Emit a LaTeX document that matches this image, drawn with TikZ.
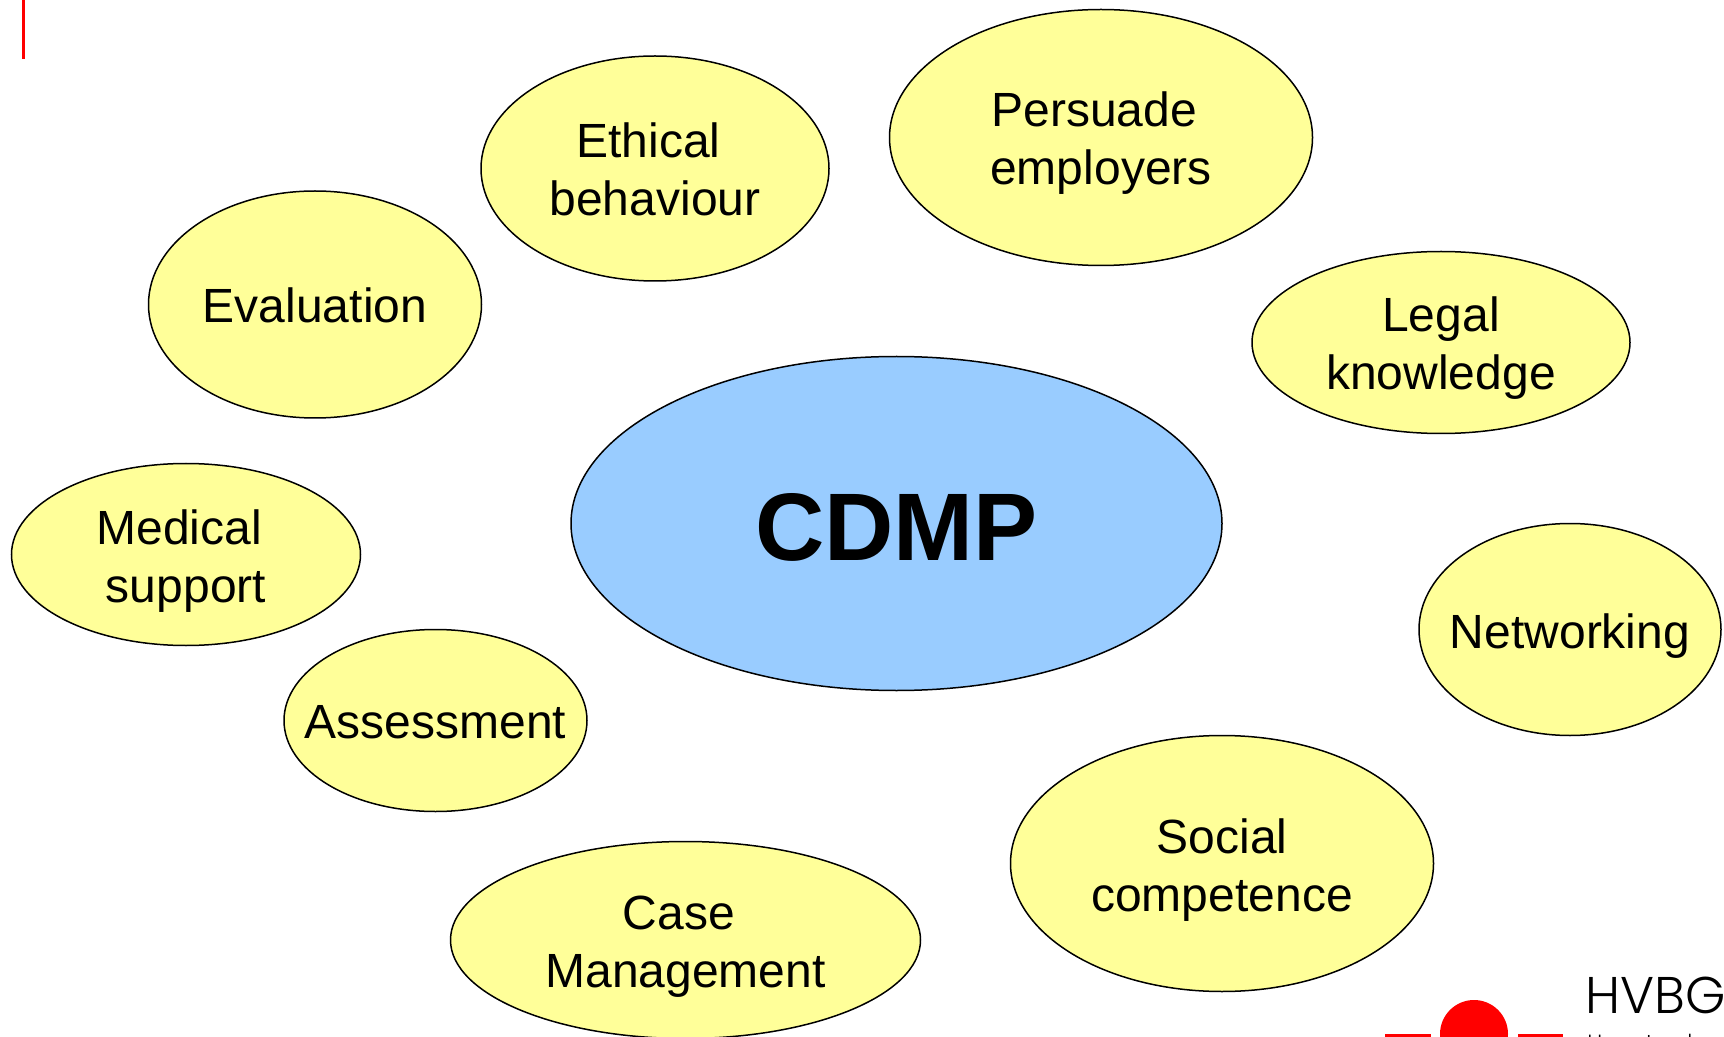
\documentclass[tikz,border=0pt]{standalone}
\usepackage{fontspec}
\setmainfont{Liberation Sans}
\newfontfamily\logofont{Poppins Light}
\usepackage{tikz}
\usetikzlibrary{positioning, shapes.geometric}
\definecolor{bubblecolor}{RGB}{255,255,153}
\definecolor{corecolor}{RGB}{153,204,255}
\definecolor{logocolor}{RGB}{255,0,0}
\tikzset{
  bubble/.style 2 args={ellipse, draw=black, line width=0.75pt, fill=bubblecolor,
    inner xsep=-30pt, inner ysep=-12pt,
    minimum width=#1*0.5pt, minimum height=#2*0.5pt, align=center, text=black,
    font=\fontsize{24}{29}\selectfont},
  oneline/.style={text height=18pt, text depth=0pt},
  twolines/.style={text height=47.5pt, text depth=0pt},
  corebubble/.style={bubble={651}{334}, fill=corecolor, text height=36.8pt, text depth=0pt,
    font=\fontsize{48}{58}\selectfont\bfseries},
}

\begin{document}
\begin{tikzpicture}[x=0.5pt, y=-0.5pt]
    \useasboundingbox (0,0) rectangle (1724,1037);
    \clip (0,0) rectangle (1724,1037);
    \fill[white] (0,0) rectangle (1724,1037);
    \coordinate (marktop) at (23.5,0);
    \coordinate (markend) at (23.5,59);
    \draw[logocolor, line width=1.5pt] (marktop) -- (markend);
    % outer ring
    \node[bubble={333}{227}, oneline] (evaluation) at (315,304.5) {Evaluation};
    \node[bubble={348}{225}, twolines] (ethical) at (655,168.5) {Ethical~\mbox{}\\behaviour};
    \node[bubble={423}{256}, twolines] (persuade) at (1101,137.5) {Persuade~\mbox{}\\employers};
    \node[bubble={378}{182}, twolines] (legal) at (1441,342.5) {Legal\\knowledge};
    \node[bubble={302}{212}, oneline, text height=19pt] (networking) at (1570,629.5) {Networking};
    \node[bubble={423}{256}, twolines] (social) at (1222,863.5) {Social\\competence};
    \node[bubble={470}{197}, twolines] (case) at (685.5,940) {Case~\mbox{}\\Management};
    \node[bubble={303}{182}, oneline] (assessment) at (435.5,720.5) {Assessment};
    \node[bubble={349}{182}, twolines] (medical) at (186,554.5) {Medical~\mbox{}\\support};
    \node[corebubble] (cdmp) at (896.5,523.5) {CDMP};
    % logo
    \fill[logocolor] (1474,1034) circle[radius=34];
    \fill[logocolor] (1385,1034) rectangle (1431,1037);
    \fill[logocolor] (1518,1034) rectangle (1563,1037);
    \node[anchor=base west, inner sep=0pt, font=\logofont\fontsize{25.8}{30}\selectfont] (hvbg) at (1585,1013) {HVBG};
    \node[anchor=base west, inner sep=0pt, font=\logofont\fontsize{11}{13}\selectfont] (hvbgsub) at (1587,1050) {Hauptverband};
\end{tikzpicture}
\end{document}
